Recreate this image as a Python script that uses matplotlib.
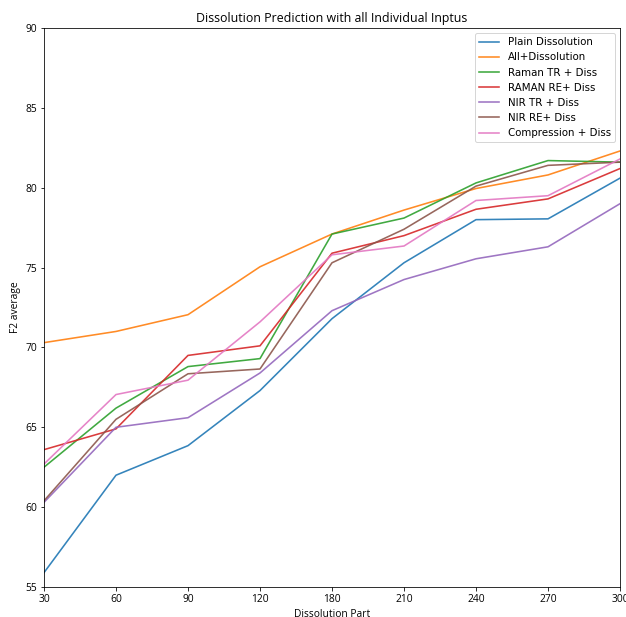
import matplotlib
matplotlib.use("Agg")
import matplotlib.pyplot as plt

# Dissolution time points (plotted at evenly spaced positions)
time_labels = ["30", "60", "90", "120", "180", "210", "240", "270", "300"]

plain_dissolution = [55.9, 62.0, 63.85, 67.3, 71.8, 75.3, 78.0, 78.05, 80.6]
all_dissolution = [70.3, 71.0, 72.05, 75.05, 77.1, 78.6, 79.95, 80.8, 82.3]
raman_tr = [62.5, 66.2, 68.8, 69.3, 77.1, 78.1, 80.3, 81.7, 81.6]
raman_re = [63.6, 64.9, 69.5, 70.1, 75.9, 77.0, 78.65, 79.3, 81.2]
nir_tr = [60.3, 65.0, 65.6, 68.4, 72.3, 74.25, 75.55, 76.3, 79.0]
nir_re = [60.4, 65.5, 68.35, 68.65, 75.3, 77.4, 80.1, 81.4, 81.6]
compression = [62.7, 67.05, 67.95, 71.6, 75.8, 76.35, 79.2, 79.5, 81.8]

series = [
    ("Plain Dissolution", plain_dissolution),
    ("All+Dissolution", all_dissolution),
    ("Raman TR + Diss", raman_tr),
    ("RAMAN RE+ Diss", raman_re),
    ("NIR TR + Diss", nir_tr),
    ("NIR RE+ Diss", nir_re),
    ("Compression + Diss", compression),
]

fig = plt.figure(figsize=(626 / 72, 617 / 72), dpi=72)
ax = fig.add_axes([44 / 626, 30 / 617, 576 / 626, 559 / 617])

positions = list(range(len(time_labels)))
for name, vals in series:
    ax.plot(positions, vals, label=name, linewidth=1.6, alpha=0.9)

tick_font = "Open Sans"
ax.set_xlim(0, len(time_labels) - 1)
ax.set_ylim(55, 90)
ax.set_xticks(positions)
ax.set_xticklabels(time_labels, fontfamily=tick_font, fontsize=10.3)
ax.set_yticks([55, 60, 65, 70, 75, 80, 85, 90])
ax.set_yticklabels(["55", "60", "65", "70", "75", "80", "85", "90"],
                   fontfamily=tick_font, fontsize=10.3)

ax.set_title("Dissolution Prediction with all Individual Inptus",
             fontfamily=tick_font, fontsize=12.4)
ax.set_xlabel("Dissolution Part", fontfamily=tick_font, fontsize=10.3)
ax.set_ylabel("F2 average", fontfamily=tick_font, fontsize=10.3)

ax.legend(loc="upper right", fontsize=10.3)

fig.savefig("out.png", dpi=72)
